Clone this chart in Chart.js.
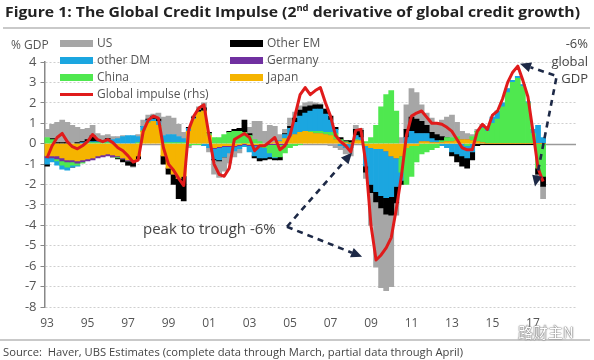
<!DOCTYPE html>
<html>
<head>
<meta charset="utf-8">
<script src="https://cdn.jsdelivr.net/npm/chart.js@4.4.0/dist/chart.umd.min.js"></script>
<style>
html,body{margin:0;padding:0;background:#fff;}
#wrap{position:relative;width:594px;height:360px;overflow:hidden;font-family:"Open Sans",sans-serif;color:#555;}
#c{position:absolute;left:0;top:0;}
.abs{position:absolute;white-space:nowrap;}
#title{left:5px;top:1px;font-weight:700;font-size:15px;color:#222;transform-origin:0 0;}
#title sup{font-size:9px;vertical-align:6px;line-height:0;}
.rule{position:absolute;background:#c9c9c9;height:2px;}
#unit{left:11px;top:36px;font-size:12px;}
.lg{position:absolute;font-size:12px;line-height:16px;white-space:nowrap;}
.lg i{position:absolute;left:-37px;top:5px;width:33px;height:7px;}
.lg b{position:absolute;left:-37px;top:7px;width:33px;height:3px;}
#gdp{right:6px;top:35px;font-size:13px;line-height:17.5px;text-align:right;color:#444;}
#ptt{left:143px;top:218px;font-size:15px;color:#444;}
#src{left:3px;top:344px;font-size:11.5px;color:#444;transform-origin:0 0;}
#wm{left:518px;top:321px;font-size:15px;font-family:"Noto Sans CJK SC",sans-serif;color:#fff;text-shadow:0 0 1px #666,0 0 1px #666,0 0 2px #888;}
</style>
</head>
<body>
<div id="wrap">
<canvas id="c" width="594" height="360"></canvas>
<div class="abs" id="title">Figure 1: The Global Credit Impulse (2<sup>nd</sup> derivative of global credit growth)</div>
<div class="rule" style="left:3px;top:27px;width:587px;"></div>
<div class="abs" id="unit">% GDP</div>
<div class="lg" style="left:97px;top:35px;"><i style="background:#a6a6a6"></i>US</div>
<div class="lg" style="left:97px;top:52px;"><i style="background:#1ba6e0"></i>other DM</div>
<div class="lg" style="left:97px;top:69px;"><i style="background:#4fe84f"></i>China</div>
<div class="lg" style="left:97px;top:86px;"><b style="background:#e01b1b"></b>Global impulse (rhs)</div>
<div class="lg" style="left:267px;top:35px;"><i style="background:#000"></i>Other EM</div>
<div class="lg" style="left:267px;top:52px;"><i style="background:#7030a0"></i>Germany</div>
<div class="lg" style="left:267px;top:69px;"><i style="background:#f5b400"></i>Japan</div>
<div class="abs" id="gdp">-6%<br>global<br>GDP</div>
<div class="abs" id="ptt">peak to trough -6%</div>
<div class="rule" style="left:0px;top:339px;width:590px;"></div>
<div class="abs" id="src">Source:&nbsp; Haver, UBS Estimates (complete data through March, partial data through April)</div>
<div class="abs" id="wm">路财主N</div>
</div>
<script>
// Quarterly categories (x axis), 1993Q1 .. 2019Q1
const quarters = [
'93Q1','93Q2','93Q3','93Q4','94Q1','94Q2','94Q3','94Q4','95Q1','95Q2','95Q3','95Q4',
'96Q1','96Q2','96Q3','96Q4','97Q1','97Q2','97Q3','97Q4','98Q1','98Q2','98Q3','98Q4',
'99Q1','99Q2','99Q3','99Q4','00Q1','00Q2','00Q3','00Q4','01Q1','01Q2','01Q3','01Q4',
'02Q1','02Q2','02Q3','02Q4','03Q1','03Q2','03Q3','03Q4','04Q1','04Q2','04Q3','04Q4',
'05Q1','05Q2','05Q3','05Q4','06Q1','06Q2','06Q3','06Q4','07Q1','07Q2','07Q3','07Q4',
'08Q1','08Q2','08Q3','08Q4','09Q1','09Q2','09Q3','09Q4','10Q1','10Q2','10Q3','10Q4',
'11Q1','11Q2','11Q3','11Q4','12Q1','12Q2','12Q3','12Q4','13Q1','13Q2','13Q3','13Q4',
'14Q1','14Q2','14Q3','14Q4','15Q1','15Q2','15Q3','15Q4','16Q1','16Q2','16Q3','16Q4',
'17Q1','17Q2','17Q3','17Q4','18Q1','18Q2','18Q3','18Q4','19Q1'];
const yearTicks = ['93','95','97','99','01','03','05','07','09','11','13','15','17'];
const yTicks = [4,3,2,1,0,-1,-2,-3,-4,-5,-6,-7,-8];

// Contributions, % GDP (quarterly, 1993Q1 .. 2017Q3)
const japan = [
-0.6,-0.6,-0.6,-0.7, -0.8,-0.8,-0.85,-0.8, -0.75,-0.7,-0.6,-0.55, -0.5,-0.55,-0.6,-0.7,
-0.8,-0.8,-0.6,0.6, 1.0,1.1,0.9,-0.6, -1.2,-1.5,-1.7,-1.6, 0.6,1.2,1.55,1.6,
0.4,-0.2,-0.15,-0.1, -0.1,-0.1,-0.05,0.0, -0.05,-0.05,-0.05,-0.05, 0.0,0.05,0.1,0.25,
0.35,0.45,0.55,0.6, 0.55,0.5,0.5,0.45, 0.4,0.2,0.1,0.05, 0.0,0.15,0.15,-0.1,
-0.2,-0.25,-0.25,-0.35, -0.6,-0.7,-0.6,-0.2, -0.1,-0.1,0.1,0.1, 0.05,0.05,0.05,0.1,
0.1,0.15,0.2,0.2, 0.15,0.1,0.05,0.0, 0,0,0,0, 0,0,0,0, 0,0,0];
const germany = [
-0.1,-0.1,-0.15,-0.15, -0.1,-0.1,-0.1,-0.1, -0.1,-0.1,-0.1,-0.1, -0.1,-0.1,-0.05,-0.05,
-0.05,-0.05,0,0, 0,0,0,0, 0,0,0,0, 0,0,0,0,
0,-0.05,-0.05,-0.05, -0.05,-0.05,-0.05,-0.05, -0.05,-0.05,-0.05,-0.05, -0.05,-0.05,-0.05,-0.05,
0,0,0,0, 0,0,0,0, 0,0,0,0, 0,0,0,0,
0,0,0,0, 0,0,0,0, 0,0,0,0, 0,0,0,0,
0,0,0,0, 0,0,0,0, 0,0,0,0, 0,0,0,0, 0,0,0];
const china = [
0.3,0.2,-0.1,-0.2, -0.25,-0.15,-0.1,-0.05, 0.05,0.05,0.05,0.05, 0.05,0,-0.05,0,
0,0,0.05,0.05, 0.05,0,0,0.05, 0.05,0.05,0.05,0.05, -0.1,-0.05,-0.05,0,
0.1,0.3,0.3,0.45, 0.55,0.6,0.6,0.55, 0.4,0.2,0.1,-0.1, -0.4,-0.6,-0.6,-0.4,
-0.2,-0.1,-0.05,0, 0.05,0.1,0.1,0.1, 0.15,0.3,0.1,0.05, 0.05,0.05,0,0.1,
0.3,0.9,1.8,2.4, 2.6,1.6,-0.8,-1.8, -1.5,-0.8,-0.5,-0.4, -0.3,-0.2,0.1,0.2,
0.2,0.2,0,-0.1, 0.2,0.5,0.7,0.6, 1.0,1.2,1.8,2.5, 3.0,3.2,2.8,2.0, 0.5,-1.2,-1.6];
const otherDM = [
-0.3,-0.2,-0.2,-0.2, -0.15,-0.1,-0.05,0.05, 0.05,0.05,0.05,0.05, 0.15,0.2,0.25,0.35,
0.4,0.4,0.3,0.2, 0.1,0.1,0.2,0.35, 0.4,0.4,0.3,0.2, 0.15,0.05,0,-0.1,
-0.2,-0.5,-0.6,-0.5, -0.3,-0.2,-0.15,-0.1, -0.3,-0.5,-0.6,-0.5, -0.2,-0.05,0.05,0.2,
0.4,0.6,0.8,0.9, 1.0,1.1,1.1,0.9, 0.6,0.2,-0.1,-0.2, -0.2,0.2,0.15,-1.0,
-1.8,-2.1,-2.3,-2.3, -2.0,-1.4,-0.4,0.3, 0.6,0.5,0.4,0.4, 0.2,0.1,-0.1,-0.2,
-0.4,-0.5,-0.6,-0.6, -0.4,0,0.1,0.2, 0.3,0.4,0.2,0.2, 0.1,0.1,0.1,0.05, 0.2,0.9,0.3];
const otherEM = [
-0.1,0.05,0.05,0.05, 0.05,0,0.05,0.05, 0.1,0.3,0.1,0.05, 0.05,0,-0.05,-0.15,
-0.2,-0.25,-0.15,0, 0.05,0.15,0.1,-0.4, -0.3,-0.5,-1.0,-1.2, 0.05,0.05,0.1,0.15,
0.05,-0.05,-0.05,0, 0.05,0.1,0.15,0.6, 0.1,-0.1,-0.15,-0.1, -0.1,-0.1,-0.15,0.05,
0.1,0.2,0.3,0.3, 0.25,0.2,0.2,0.25, 0.2,0.1,0.1,0.05, 0.1,0.3,0.35,-0.3,
-0.4,-0.5,-0.6,-0.8, -0.9,-0.8,-0.2,0.4, 0.7,0.7,0.6,0.4, 0.3,0.3,0.2,0,
-0.2,-0.4,-0.5,-0.5, -0.4,-0.1,-0.05,-0.05, -0.05,-0.05,-0.05,-0.05, -0.05,-0.05,-0.05,-0.05, -0.05,-0.3,-0.5];
const us = [
0.4,0.7,1.0,1.1, 1.0,0.9,0.75,0.6, 0.55,0.5,0.3,0.25, 0.2,0.15,0.1,0.05,
0,-0.05,0.1,0.3, 0.2,0.1,0.3,0.9, 0.9,0.8,0.6,0.3, -0.1,0.05,0.15,0.25,
-0.2,-0.7,-0.8,-0.7, -0.5,-0.3,-0.2,0, 0.3,0.9,1.0,0.6, 0.9,0.8,0.3,0.2,
0.4,0.3,0.2,0.2, 0.2,0.1,0.05,0, -0.1,-0.2,-0.2,-0.3, -0.4,0.2,0.1,-0.3,
-1.6,-3.2,-3.9,-3.75, -3.5,-0.6,0.3,1.2, 1.4,1.3,0.8,0.6, 0.7,0.6,0.8,1.0,
1.1,0.7,0.4,0.3, 0.1,0.1,0.1,0, 0,0,0,0, 0,0,0,0, 0,-0.3,-0.6];
const globalImpulse = [
-0.7,-0.1,0.3,0.5, 0.1,-0.15,-0.25,-0.1, 0.1,0.45,0.2,0.1, 0.2,0.05,-0.2,-0.35,
-0.6,-0.9,-0.8,0.6, 1.15,1.35,1.25,-0.2, -1.0,-1.3,-1.7,-2.05, 0.7,1.35,1.75,1.9,
0.4,-1.0,-1.5,-1.6, -1.2,0.2,0.35,0.5, 0.3,-0.35,-0.1,-0.1, 0.1,0.3,-0.3,-0.1,
0.4,1.4,2.4,2.75, 2.4,2.6,2.75,2.0, 1.35,0.4,0.1,-0.1, -0.4,0.65,0.7,-1.0,
-4.0,-5.7,-5.45,-5.1, -4.6,-3.2,-1.6,0.4, 1.35,1.5,1.6,1.3, 1.0,1.0,0.95,0.8,
0.6,0.2,-0.2,-0.3, -0.3,0.6,0.95,0.7, 1.4,1.6,2.2,3.0, 3.5,3.8,3.1,2.3, 0.6,-1.2,-1.85];

// Annotation arrows: [year, value] from -> to
const arrowSpecs = [
  {from:[2004.85,-4.07], to:[2008.06,-0.44]},
  {from:[2004.85,-4.07], to:[2008.56,-5.54]},
  {from:[2018.05,3.35], to:[2016.36,3.92]},
  {from:[2018.15,3.2], to:[2017.1,-2.1]}
];

const zeroLine = {
  id:'zeroLine',
  beforeDatasetsDraw(ch){
    const {ctx, chartArea:a, scales:{y}} = ch;
    const py = Math.round(y.getPixelForValue(0)) + 0.5;
    ctx.save();
    ctx.strokeStyle = '#9a9a9a'; ctx.lineWidth = 1.5;
    ctx.beginPath(); ctx.moveTo(a.left, py); ctx.lineTo(a.right, py); ctx.stroke();
    ctx.restore();
  }
};
const arrows = {
  id:'arrows',
  afterDatasetsDraw(ch){
    const {ctx, scales:{x, y}} = ch;
    const px = yr => x.getPixelForValue((yr - 1993) * 4);
    ctx.save();
    arrowSpecs.forEach(a => {
      const x1 = px(a.from[0]), y1 = y.getPixelForValue(a.from[1]);
      const x2 = px(a.to[0]), y2 = y.getPixelForValue(a.to[1]);
      const ang = Math.atan2(y2 - y1, x2 - x1), head = 11, hw = 5;
      const bx = x2 - head * Math.cos(ang), by = y2 - head * Math.sin(ang);
      ctx.strokeStyle = '#1d2946'; ctx.lineWidth = 2.6; ctx.setLineDash([6, 5]);
      ctx.beginPath(); ctx.moveTo(x1, y1); ctx.lineTo(bx, by); ctx.stroke();
      ctx.setLineDash([]); ctx.fillStyle = '#1d2946';
      ctx.beginPath(); ctx.moveTo(x2, y2);
      ctx.lineTo(bx - hw * Math.sin(ang), by + hw * Math.cos(ang));
      ctx.lineTo(bx + hw * Math.sin(ang), by - hw * Math.cos(ang));
      ctx.closePath(); ctx.fill();
    });
    ctx.restore();
  }
};

const bar = (label, data, color) => ({label, data, backgroundColor: color, stack: 'parts', order: 1, borderWidth: 0});

new Chart(document.getElementById('c'), {
  type: 'bar',
  data: {
    labels: quarters,
    datasets: [
      {type:'line', label:'Global impulse (rhs)', data: globalImpulse, borderColor:'#e01b1b', borderWidth:3,
       pointRadius:0, fill:false, tension:0, stack:'impulse', order:0, borderJoinStyle:'round'},
      bar('Japan', japan, '#f5b400'),
      bar('Germany', germany, '#7030a0'),
      bar('China', china, '#4fe84f'),
      bar('other DM', otherDM, '#1ba6e0'),
      bar('Other EM', otherEM, '#000000'),
      bar('US', us, '#a6a6a6')
    ]
  },
  options: {
    responsive: false, animation: false, devicePixelRatio: 1,
    layout: {padding: {top: 62, right: 18, left: 0, bottom: 0}},
    plugins: {legend: {display: false}, tooltip: {enabled: false}},
    datasets: {bar: {barPercentage: 1, categoryPercentage: 1}},
    scales: {
      x: {
        stacked: true,
        grid: {display: false, drawTicks: false},
        border: {display: false},
        ticks: {
          autoSkip: false, maxRotation: 0, minRotation: 0, padding: 9, color: '#555',
          font: {family: 'Open Sans', size: 12},
          callback: (v, i) => {
            const q = quarters[i];
            return (q.endsWith('Q1') && yearTicks.includes(q.slice(0, 2))) ? q.slice(0, 2) : '';
          }
        },
        afterFit: s => { s.height = 53; }
      },
      y: {
        stacked: true, min: -8, max: 4,
        afterBuildTicks: s => { s.ticks = yTicks.map(v => ({value: v})); },
        ticks: {color: '#555', font: {family: 'Open Sans', size: 13}, padding: 4},
        grid: {
          color: c => (c.tick && c.tick.value === 0) ? 'rgba(0,0,0,0)' : '#cfcfcf',
          lineWidth: 1, drawTicks: true, tickLength: 4, tickColor: '#888', tickBorderDash: []
        },
        border: {display: true, color: '#888', width: 1.5, dash: [2, 2]},
        afterFit: s => { s.width = 44.5; }
      }
    }
  },
  plugins: [zeroLine, arrows]
});

function fitWidth(id, w){
  const el = document.getElementById(id);
  const cur = el.getBoundingClientRect().width;
  if (cur > 0) el.style.transform = 'scaleX(' + (w / cur) + ')';
}
fitWidth('title', 575);
fitWidth('src', 460);
</script>
</body>
</html>
